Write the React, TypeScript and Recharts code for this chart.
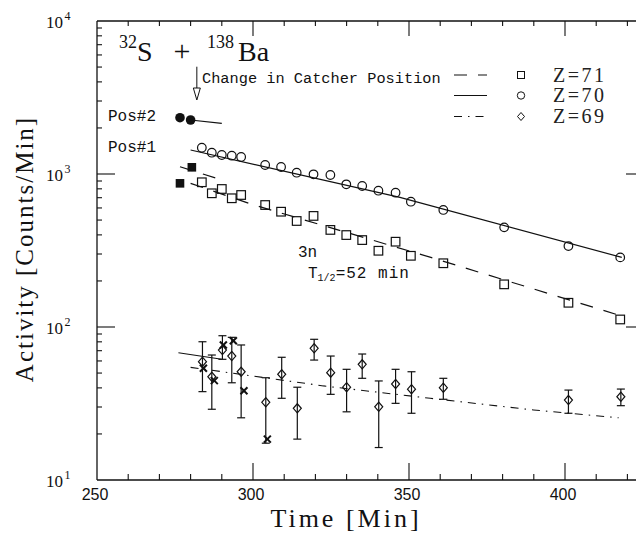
import React from "react";
import {
  ComposedChart,
  XAxis,
  YAxis,
  Line,
  Scatter,
  ErrorBar,
  ReferenceLine,
  ReferenceDot,
  Customized,
} from "recharts";

// ---- data ----
const xTicks = [250, 260, 270, 280, 290, 300, 310, 320, 330, 340, 350, 360, 370, 380, 390, 400, 410, 420];
const yTicks = [
  10, 20, 30, 40, 50, 60, 70, 80, 90,
  100, 200, 300, 400, 500, 600, 700, 800, 900,
  1000, 2000, 3000, 4000, 5000, 6000, 7000, 8000, 9000, 10000,
];

const times = [283.6, 286.8, 290.0, 293.2, 296.2, 303.9, 309.0, 314.0, 319.4, 324.8, 329.9, 335.0, 340.2, 345.7, 350.6, 361.0, 380.5, 401.1, 417.7];
const z71Counts = [883, 748, 798, 694, 729, 627, 567, 493, 532, 431, 399, 370, 315, 361, 292, 261, 190, 144, 112];
const z70Counts = [1485, 1378, 1331, 1317, 1292, 1145, 1111, 1020, 995, 985, 856, 835, 778, 755, 659, 582, 448, 338, 285];

const z69Times = [283.8, 286.8, 290.2, 293.2, 296.2, 304.1, 309.2, 314.2, 319.6, 324.9, 330.0, 335.0, 340.3, 345.7, 350.8, 361.0, 401.1, 417.9];
const z69Counts = [59.3, 47.3, 70.7, 64.6, 51.0, 32.2, 49.1, 29.4, 72.6, 50.3, 40.4, 57.0, 30.1, 42.4, 39.2, 40.1, 33.3, 35.0];
const z69Upper = [80.1, 65.6, 87.7, 85.6, 76.3, 46.6, 63.4, 40.4, 83.1, 64.6, 52.9, 66.6, 44.4, 52.9, 51.0, 46.2, 38.7, 39.3];
const z69Lower = [37.8, 29.0, 61.5, 43.2, 25.5, 17.4, 34.2, 18.5, 60.8, 36.3, 27.9, 46.2, 16.3, 31.7, 27.3, 33.7, 27.3, 30.6];

const crossTimes = [284.1, 287.6, 290.5, 293.7, 297.1, 304.6];
const crossCounts = [53.7, 44.6, 76.3, 81.4, 38.3, 18.5];

const pos2Times = [276.6, 280.0];
const pos2Counts = [2333, 2254];
const pos1Times = [276.6, 280.4];
const pos1Counts = [869, 1106];

// fitted curves
const fit70Times = [280.0, 347.1, 418.2];
const fit70Counts = [1435, 704, 285];
const fit71Times = [280.0, 300.0, 357.0, 417.0];
const fit71Counts = [869, 630, 285, 120];
const fit69Times = [280.0, 322.6, 356.8, 389.9, 417.2];
const fit69Counts = [54.5, 41.2, 34.2, 28.7, 25.5];
const pos2FitTimes = [280.0, 290.0];
const pos2FitCounts = [2254, 2145];
const pos1FitTimes = [276.6, 290.0];
const pos1FitCounts = [1116, 914];
const z69ShortTimes = [276.1, 290.0];
const z69ShortCounts = [67.9, 61.5];

const arrowTime = 282;
const arrowTop = 5026;
const arrowNeck = 3632;
const arrowTip = 3045;

const pts = (ts: number[], vs: number[]) => ts.map((t, i) => ({ t, v: vs[i] }));

const z71Data = pts(times, z71Counts);
const z70Data = pts(times, z70Counts);
const z69Data = z69Times.map((t, i) => ({
  t,
  v: z69Counts[i],
  err: [z69Counts[i] - z69Lower[i], z69Upper[i] - z69Counts[i]],
}));
const crossData = pts(crossTimes, crossCounts);
const pos2Data = pts(pos2Times, pos2Counts);
const pos1Data = pts(pos1Times, pos1Counts);

// ---- layout ----
const CHART_W = 643;
const CHART_H = 533;
const PLOT_LEFT = 97;
const PLOT_TOP = 21;
const PLOT_BOTTOM = 480;
const PLOT_RIGHT = 643;
const INK = "#111";
const SERIF = "Liberation Serif";
const MONO = "Liberation Mono";
const SANS = "Liberation Sans";

const DASH71 = "13 11";
const DASH69 = "8 6 1.5 6";

function renderXTick(props: any) {
  const { x, payload } = props;
  const v = payload.value;
  const major = v % 50 === 0;
  return (
    <g>
      {v > 250 && (
        <>
          <line x1={x} x2={x} y1={PLOT_BOTTOM} y2={PLOT_BOTTOM - (major ? 17 : 6)} stroke={INK} strokeWidth={1.1} />
          <line x1={x} x2={x} y1={PLOT_TOP} y2={PLOT_TOP + (major ? 15 : 5)} stroke={INK} strokeWidth={1.1} />
        </>
      )}
      {major && (
        <text x={x - 2} y={PLOT_BOTTOM + 20} textAnchor="middle" style={{ fontFamily: SANS, fontSize: 16 }} fill={INK}>
          {v}
        </text>
      )}
    </g>
  );
}

function renderYTick(props: any) {
  const { y, payload } = props;
  const v = payload.value;
  const e = Math.log10(v);
  const major = Math.abs(e - Math.round(e)) < 1e-6;
  return (
    <g>
      {v > 10 && v < 10000 && (
        <>
          <line x1={PLOT_LEFT} x2={PLOT_LEFT + (major ? 18 : 5)} y1={y} y2={y} stroke={INK} strokeWidth={1.1} />
          <line x1={PLOT_RIGHT - (major ? 17 : 6)} x2={PLOT_RIGHT} y1={y} y2={y} stroke={INK} strokeWidth={1.1} />
        </>
      )}
      {major && (
        <g fill={INK}>
          <text x={63} y={y + 6.5} textAnchor="end" style={{ fontFamily: SERIF, fontSize: 17 }}>10</text>
          <text x={64.5} y={y - 1.5} style={{ fontFamily: SERIF, fontSize: 12 }}>{Math.round(e)}</text>
        </g>
      )}
    </g>
  );
}

const openSquare = (p: any) => (
  <rect x={p.cx - 4.3} y={p.cy - 4.3} width={8.6} height={8.6} fill="none" stroke={INK} strokeWidth={1.2} />
);
const openCircle = (p: any) => (
  <circle cx={p.cx} cy={p.cy} r={4.3} fill="none" stroke={INK} strokeWidth={1.2} />
);
const filledCircle = (p: any) => <circle cx={p.cx} cy={p.cy} r={4.8} fill={INK} />;
const filledSquare = (p: any) => (
  <rect x={p.cx - 4.3} y={p.cy - 4.3} width={8.6} height={8.6} fill={INK} />
);
const openDiamond = (p: any) => (
  <polygon
    points={`${p.cx},${p.cy - 4.6} ${p.cx + 4},${p.cy} ${p.cx},${p.cy + 4.6} ${p.cx - 4},${p.cy}`}
    fill="none"
    stroke={INK}
    strokeWidth={1.2}
  />
);
const cross = (p: any) => (
  <g stroke={INK} strokeWidth={2}>
    <line x1={p.cx - 3.5} y1={p.cy - 3.5} x2={p.cx + 3.5} y2={p.cy + 3.5} />
    <line x1={p.cx - 3.5} y1={p.cy + 3.5} x2={p.cx + 3.5} y2={p.cy - 3.5} />
  </g>
);
const arrowHead = (p: any) => (
  <polygon
    points={`${p.cx - 3.5},${p.cy - 12} ${p.cx + 3.5},${p.cy - 12} ${p.cx},${p.cy}`}
    fill="#fff"
    stroke={INK}
    strokeWidth={1}
  />
);

const serif = (size: number, extra: React.CSSProperties = {}) => ({ fontFamily: SERIF, fontSize: size, ...extra });
const mono = (size: number, extra: React.CSSProperties = {}) => ({ fontFamily: MONO, fontSize: size, ...extra });

function Annotations() {
  const legendRows = [
    { label: "Z=71", dash: DASH71, y: 75, mark: "square" },
    { label: "Z=70", dash: undefined, y: 95.5, mark: "circle" },
    { label: "Z=69", dash: DASH69, y: 116.5, mark: "diamond" },
  ];
  return (
    <g fill={INK}>
      {/* reaction */}
      <text x={119} y={48} style={serif(18)}>32</text>
      <text x={137} y={61} style={serif(28)}>S</text>
      <text x={182} y={61} textAnchor="middle" style={serif(30)}>+</text>
      <text x={207} y={48} style={serif(18)}>138</text>
      <text x={238} y={61} style={serif(28)}>Ba</text>

      <text x={202} y={83} style={mono(15.3)}>Change in Catcher Position</text>
      <text x={108} y={120.5} style={mono(16)}>Pos#2</text>
      <text x={108} y={151.5} style={mono(16)}>Pos#1</text>
      <text x={298} y={256.5} style={mono(16)}>3n</text>
      <text x={308} y={278} style={mono(16)}>
        T<tspan style={{ fontSize: 10 }} dy={3}>1/2</tspan>
        <tspan dy={-3} style={{ letterSpacing: 1 }}>=52 min</tspan>
      </text>

      {/* legend */}
      {legendRows.map((r) => (
        <g key={r.label}>
          <line x1={454} x2={487} y1={r.y} y2={r.y} stroke={INK} strokeWidth={1.1} strokeDasharray={r.dash} />
          {r.mark === "square" && (
            <rect x={517.5} y={r.y - 3.5} width={7} height={7} fill="none" stroke={INK} strokeWidth={1} />
          )}
          {r.mark === "circle" && <circle cx={521} cy={r.y} r={3.7} fill="none" stroke={INK} strokeWidth={1} />}
          {r.mark === "diamond" && (
            <polygon
              points={`521,${r.y - 4} 524.5,${r.y} 521,${r.y + 4} 517.5,${r.y}`}
              fill="none"
              stroke={INK}
              strokeWidth={1}
            />
          )}
          <text x={553} y={r.y + 6.5} fill="#222" style={serif(20, { letterSpacing: 2.5 })}>
            {r.label}
          </text>
        </g>
      ))}

      {/* axis titles */}
      <text transform="rotate(-90)" x={-249} y={33} textAnchor="middle" style={serif(25, { letterSpacing: 2 })}>
        Activity [Counts/Min]
      </text>
      <text x={346} y={527} textAnchor="middle" style={serif(26, { letterSpacing: 3 })}>
        Time [Min]
      </text>
    </g>
  );
}

export default function App() {
  return (
    <div style={{ position: "absolute", left: 0, top: 0, width: 636, height: 533, overflow: "hidden", background: "#fff" }}>
      <ComposedChart width={CHART_W} height={CHART_H} margin={{ top: PLOT_TOP, right: 0, bottom: 0, left: 0 }}>
        <XAxis
          type="number"
          dataKey="t"
          domain={[250, 425]}
          ticks={xTicks}
          interval={0}
          allowDataOverflow
          height={CHART_H - PLOT_BOTTOM}
          tickSize={0}
          tickMargin={0}
          tickLine={false}
          tick={renderXTick}
          axisLine={{ stroke: INK, strokeWidth: 1.3 }}
        />
        <YAxis
          type="number"
          dataKey="v"
          scale="log"
          domain={[10, 10000]}
          ticks={yTicks}
          interval={0}
          allowDataOverflow
          width={PLOT_LEFT}
          tickSize={0}
          tickMargin={0}
          tickLine={false}
          tick={renderYTick}
          axisLine={{ stroke: INK, strokeWidth: 1.3 }}
        />
        <ReferenceLine y={10000} stroke={INK} strokeWidth={1.3} />

        <Line data={pts(fit70Times, fit70Counts)} dataKey="v" type="linear" stroke={INK} strokeWidth={1.2} dot={false} activeDot={false} isAnimationActive={false} />
        <Line data={pts(fit71Times, fit71Counts)} dataKey="v" type="linear" stroke={INK} strokeWidth={1.2} strokeDasharray={DASH71} dot={false} activeDot={false} isAnimationActive={false} />
        <Line data={pts(fit69Times, fit69Counts)} dataKey="v" type="linear" stroke={INK} strokeWidth={1.1} strokeDasharray={DASH69} dot={false} activeDot={false} isAnimationActive={false} />
        <Line data={pts(pos2FitTimes, pos2FitCounts)} dataKey="v" type="linear" stroke={INK} strokeWidth={1.2} dot={false} activeDot={false} isAnimationActive={false} />
        <Line data={pts(pos1FitTimes, pos1FitCounts)} dataKey="v" type="linear" stroke={INK} strokeWidth={1.2} strokeDasharray={DASH71} dot={false} activeDot={false} isAnimationActive={false} />
        <Line data={pts(z69ShortTimes, z69ShortCounts)} dataKey="v" type="linear" stroke={INK} strokeWidth={1.1} dot={false} activeDot={false} isAnimationActive={false} />

        <Scatter data={z71Data} shape={openSquare} isAnimationActive={false} />
        <Scatter data={z70Data} shape={openCircle} isAnimationActive={false} />
        <Scatter data={pos2Data} shape={filledCircle} isAnimationActive={false} />
        <Scatter data={pos1Data} shape={filledSquare} isAnimationActive={false} />
        <Scatter data={z69Data} shape={openDiamond} isAnimationActive={false}>
          <ErrorBar dataKey="err" direction="y" width={4} stroke={INK} strokeWidth={1.2} isAnimationActive={false} />
        </Scatter>
        <Scatter data={crossData} shape={cross} isAnimationActive={false} />

        <ReferenceLine segment={[{ x: arrowTime, y: arrowTop }, { x: arrowTime, y: arrowNeck }]} stroke={INK} strokeWidth={1} />
        <ReferenceDot x={arrowTime} y={arrowTip} shape={arrowHead} />

        <Customized component={Annotations} />
      </ComposedChart>
    </div>
  );
}
